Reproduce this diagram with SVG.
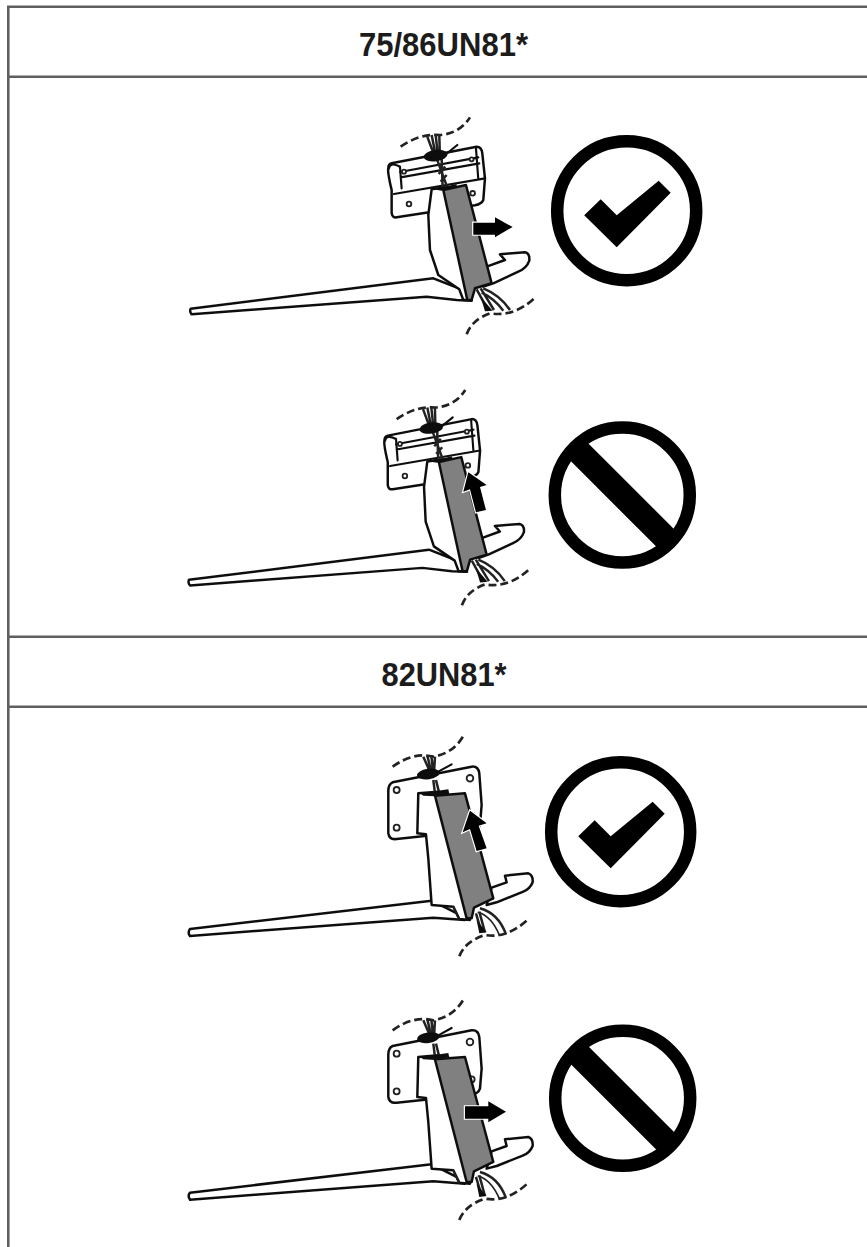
<svg xmlns="http://www.w3.org/2000/svg" xmlns:xlink="http://www.w3.org/1999/xlink" width="867" height="1247" viewBox="0 0 867 1247">
<style>
.rule{stroke:#5f5f5f;stroke-width:2.6;fill:none}
.title{font-family:"Liberation Sans Narrow","Liberation Sans",Arial,sans-serif;font-weight:700;font-size:34px;fill:#1c1c1c}
.ln{fill:#fff;stroke:#111;stroke-width:7.5;stroke-linejoin:round;stroke-linecap:round}
.op{fill:none;stroke:#111;stroke-width:6.5;stroke-linejoin:round;stroke-linecap:round}
.thin{fill:none;stroke:#222;stroke-width:5;stroke-linecap:round}
.wire{fill:none;stroke:#222;stroke-width:7.5}
.dash{fill:none;stroke:#222;stroke-width:8;stroke-dasharray:24 12}
.strap{fill:#808080;stroke:#111;stroke-width:7.5;stroke-linejoin:round}
.blob{fill:#111}
.arrow{fill:#000;stroke:#fff;stroke-width:7;paint-order:stroke;stroke-linejoin:miter}
.ring{fill:none;stroke:#000;stroke-width:12.5}
.bar{stroke:#000;stroke-width:25}
.hole{fill:#fff;stroke:#222;stroke-width:5.5}
</style>
<defs>
<filter id="soft" x="-5%" y="-5%" width="110%" height="110%"><feGaussianBlur stdDeviation="1.1"/></filter>
<g id="standA">
<path class="dash" d="M692,140Q750,100 810,105Q870,100 900,52"/>
<path class="ln" d="M950,500L1005,480L990,463L1065,457Q1080,460 1078,482Q1070,505 1045,515L970,550L940,560Z"/>
<path class="ln" d="M62,626L790,535L880,570L905,602L860,600L770,590L65,643Q58,635 62,626Z"/>
<path class="ln" d="M665,190L920,140Q935,140 937,160L945,235L940,300Q935,312 915,316L680,352Q668,355 665,340L665,270Q652,215 655,205Q655,192 665,190Z"/>
<path class="op" d="M690,200Q660,185 657,205M690,200L695,265M690,216L925,172M692,232L928,190M672,282L945,235M918,145L925,238"/>
<circle class="hole" cx="717" cy="312" r="7"/><circle class="hole" cx="908" cy="280" r="7"/><circle class="hole" cx="702" cy="215" r="6"/><circle class="hole" cx="905" cy="178" r="6"/>
<path class="ln" d="M785,268L775,345L780,450L805,525L868,568L880,600L905,600L825,262Z"/>
<path class="wire" d="M772,110L798,180M785,105L800,180M797,103L805,180M808,105L810,180M800,175L832,262M815,175L818,262M826,200L806,222M830,225L812,245"/>
<ellipse class="blob" cx="797" cy="167" rx="36" ry="17" transform="rotate(-8 797 167)"/>
<path class="op" d="M825,165L862,135"/>
<path class="blob" d="M790,268L860,252L860,262L815,272Z"/>
<path class="strap" d="M820,270L888,255L965,550L915,565L905,600L892,600Z"/>
<path class="wire" d="M920,568L955,632M932,565L972,630M940,565Q990,585 1020,630M935,578Q972,595 1000,632"/>
<path class="blob" d="M932,590L968,632L945,634Z"/>
<path class="dash" d="M890,703Q905,660 960,640Q1030,652 1092,596"/>
</g>
<g id="standB">
<path class="dash" d="M668,125Q730,80 790,95Q850,85 880,33"/>
<path class="ln" d="M965,488L1010,472L1005,452L1075,445Q1090,450 1088,472Q1080,492 1060,500L980,532L950,540Z"/>
<path class="ln" d="M60,612L785,527L870,570L885,585L790,578L60,633Q52,622 60,612Z"/>
<path class="ln" d="M668,172L905,125Q925,123 928,145L935,240L930,300Q925,315 905,318L680,342Q658,345 655,325L655,198Q655,178 668,172Z"/>
<circle class="hole" cx="680" cy="195" r="9"/><circle class="hole" cx="680" cy="308" r="9"/><circle class="hole" cx="900" cy="160" r="10"/><circle class="hole" cx="905" cy="272" r="9"/>
<path class="ln" d="M745,205L742,325L768,328L775,400L785,540L850,545L868,582L900,585L805,200Z"/>
<path class="thin" d="M850,545L866,582"/>
<path class="wire" d="M760,95L782,145M772,92L785,145M784,92L790,145M795,95L792,145M798,165L808,205M790,165L795,205"/>
<ellipse class="blob" cx="775" cy="147" rx="34" ry="16" transform="rotate(-8 775 147)"/>
<path class="op" d="M805,140L845,118"/>
<path class="blob" d="M750,205L835,193L838,206L795,214L760,212Z"/>
<path class="strap" d="M795,212L885,205L970,520L912,548L905,580L890,580Z"/>
<path class="wire" d="M918,565L935,622M928,560L945,622"/>
<path class="blob" d="M920,585L950,622L928,625Z"/>
<path class="wire" d="M930,550Q985,565 1008,628"/>
<path class="thin" d="M925,562Q965,575 988,630"/>
<path class="dash" d="M868,694Q885,650 945,630Q1010,642 1072,585"/>
</g>
<g id="okIcon">
<circle class="ring" r="69.5"/>
<path fill="#000" d="M-42.5,4.5L-26,-11.5L-10,4.5L32,-30L44,-18L-10,36.5Z"/>
</g>
<g id="noIcon">
<circle class="ring" r="67.5"/>
<line class="bar" x1="-48" y1="-48" x2="48" y2="48"/>
</g>
</defs>
<g id="table">
<path class="rule" d="M8.3,6.7H867M8.3,5.5V1247M8.3,76.7H867M8.3,636.8H867M8.3,706.8H867"/>
</g>
<g id="heading-75-86"><text class="title" x="359" y="56" textLength="169" lengthAdjust="spacingAndGlyphs">75/86UN81*</text></g>
<g id="heading-82"><text class="title" x="381.5" y="686" textLength="125" lengthAdjust="spacingAndGlyphs">82UN81*</text></g>
<g id="figure-1" transform="translate(170,100) scale(.3333)" filter="url(#soft)">
<use href="#standA"/>
<path class="arrow" d="M910,368H975V352L1028,381L975,412V404H910Z"/>
</g>
<g id="figure-2" transform="translate(170,385) scale(.3333)" filter="url(#soft)">
<g transform="translate(55,18) scale(.989,.992) translate(-60,-55)"><use href="#standA"/></g>
<path class="arrow" d="M895,262L950,300L930,306L948,375L918,382L900,313L880,320Z"/>
</g>
<g id="figure-3" transform="translate(170,725) scale(.3333)" filter="url(#soft)">
<use href="#standB"/>
<path class="arrow" d="M900,257L950,295L926,302L950,370L920,378L900,312L878,322Z"/>
</g>
<g id="figure-4" transform="translate(170,985) scale(.3333)" filter="url(#soft)">
<g transform="translate(0,11)"><use href="#standB"/></g>
<path class="arrow" d="M885,364H955V349L1008,380L955,412V401H885Z"/>
</g>
<use id="icon-ok-1" href="#okIcon" x="626.7" y="210.7"/>
<use id="icon-no-1" href="#noIcon" x="622.3" y="495"/>
<use id="icon-ok-2" href="#okIcon" x="620.7" y="831.7"/>
<use id="icon-no-2" href="#noIcon" x="622.7" y="1098.3"/>
</svg>
